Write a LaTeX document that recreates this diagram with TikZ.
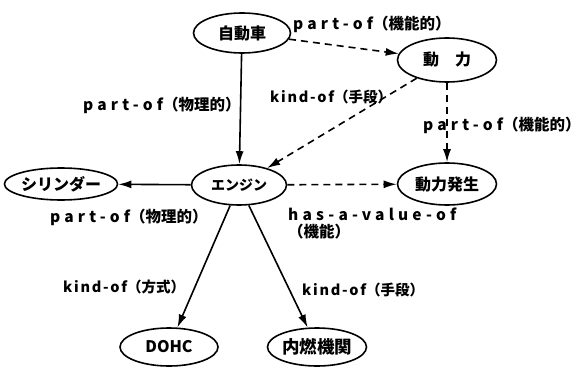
\documentclass[tikz,border=0pt]{standalone}
\usepackage{fontspec}
\setmainfont{Noto Sans CJK JP}
\newfontfamily\widefont[LetterSpace=27]{Noto Sans CJK JP}
\newfontfamily\kindfont[LetterSpace=12]{Noto Sans CJK JP}
\newfontfamily\jpfont{Noto Sans CJK JP}
\usetikzlibrary{arrows.meta,shapes.geometric}
\begin{document}
\begin{tikzpicture}[x=1pt,y=-1pt,
  concept/.style={draw,ellipse,line width=1.6pt,inner sep=0pt,font=\bfseries\fontsize{16}{16}\selectfont},
  lab/.style={anchor=west,inner sep=0pt,font=\bfseries\fontsize{15.5}{17}\selectfont},
  klab/.style={lab,font=\bfseries\fontsize{14.5}{16}\selectfont},
  edge/.style={line width=1.6pt,-{Latex[length=13pt,width=8pt]}},
  dedge/.style={edge,dash pattern=on 7pt off 5pt}]
\useasboundingbox (0,0) rectangle (585,366);
\node[concept,minimum width=97pt,minimum height=40pt] (car) at (242,33) {自動車};
\node[concept,minimum width=99pt,minimum height=44pt] (power) at (447,60) {動　力};
\node[concept,minimum width=95pt,minimum height=40pt,font=\bfseries\fontsize{14}{14}\selectfont] (engine) at (239,185) {エンジン};
\node[concept,minimum width=98pt,minimum height=32pt] (cyl) at (61,184) {シリンダー};
\node[concept,minimum width=99pt,minimum height=42pt] (gen) at (447,184) {動力発生};
\node[concept,minimum width=98pt,minimum height=38pt] (dohc) at (169,347) {DOHC};
\node[concept,minimum width=99pt,minimum height=38pt,font=\bfseries\fontsize{17.5}{17.5}\selectfont] (ice) at (317,347) {内燃機関};

\draw[edge] (car) -- (engine);
\draw[dedge] (car) -- (power);
\draw[dedge] (power) -- (engine);
\draw[dedge] (power) -- (gen);
\draw[edge] (engine) -- (cyl);
\draw[dedge] (engine) -- (gen);
\draw[edge] (engine) -- (dohc);
\draw[edge] (engine) -- (ice);

\node[lab] (l1) at (293,24) {\widefont part-of\jpfont （機能的）};
\node[lab] (l2) at (83,105) {\widefont part-of\jpfont （物理的）};
\node[klab] (l3) at (270,97) {\kindfont kind-of\jpfont （手段）};
\node[lab] (l4) at (423,125) {\widefont part-of\jpfont （機能的）};
\node[lab] (l5) at (50,217) {\widefont part-of\jpfont （物理的）};
\node[lab,align=left] (l6) at (288,223) {\widefont has-a-value-of\\\jpfont （機能）};
\node[klab] (l7) at (63,287) {\kindfont kind-of\jpfont （方式）};
\node[klab] (l8) at (302,290) {\kindfont kind-of\jpfont （手段）};
\end{tikzpicture}
\end{document}
